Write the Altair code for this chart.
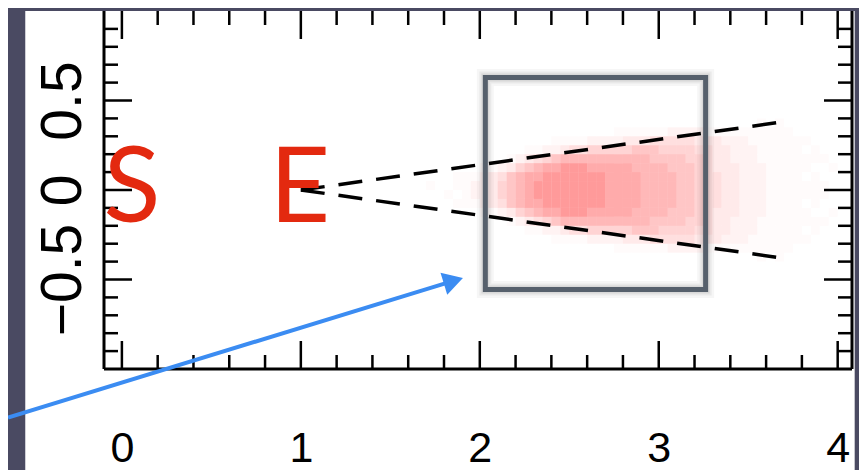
import altair as alt
import pandas as pd

# ---------------- axes / scales ----------------
X_DOMAIN = [-0.1, 4.08]
Y_DOMAIN = [-1.0, 1.0]
PLOT_W, PLOT_H = 748, 358
PX_X = PLOT_W / (X_DOMAIN[1] - X_DOMAIN[0])
PX_Y = PLOT_H / (Y_DOMAIN[1] - Y_DOMAIN[0])

x_tick_labels = [0, 1, 2, 3, 4]
y_tick_labels = [-0.5, 0.0, 0.5]
y_tick_text = ["\u22120.5", "0", "0.5"]
x_major_ticks = [0, 1, 2, 3, 4]
x_minor_ticks = [0.2, 0.4, 0.6, 0.8, 1.2, 1.4, 1.6, 1.8, 2.2, 2.4, 2.6, 2.8,
                 3.2, 3.4, 3.6, 3.8]
y_major_ticks = [-0.5, 0.0, 0.5]
y_minor_ticks = [-0.9, -0.8, -0.7, -0.6, -0.4, -0.3, -0.2, -0.1,
                 0.1, 0.2, 0.3, 0.4, 0.6, 0.7, 0.8, 0.9]

# ---------------- figure content ----------------
# dashed cone lines
cone_x0 = [1.0, 1.0]
cone_y0 = [0.0, 0.0]
cone_x1 = [3.69, 3.69]
cone_y1 = [0.38, -0.38]

# point cloud density, columns from x=1.70 in 0.05 steps,
# each string runs top (y=0.40) to bottom (y=-0.40) in 0.05 steps, digit = density 0..9
cloud_cols = [
    "0000000100000000", "0000000000000000", "0000000010000000", "0000001101000000",
    "0000001111000000", "0000001221000000", "0000012222100000", "0000013333100000",
    "0000024554200000", "0000136666310000", "0000257777520000", "0001368888631000",
    "0001478998741000", "0002589999852000", "0012689999862100", "0013799999973100",
    "0014799999974100", "0014799999974100", "0025789999875200", "0025789999875200",
    "0025788888875200", "0125788888875210", "0135788888875310", "0136778888776310",
    "0136777777776310", "0146677777766410", "0145677777765410", "0245667777665420",
    "0245666666665420", "0245566666655420", "0234555555554320", "0134444444444310",
    "0133334444333310", "0123333333333210", "0122233333322210", "0122222222222210",
    "0112222222222110", "1111122222211111", "0111111111111110", "1111111111111111",
    "0111111111111110", "0011111111111100", "0010110110110100", "0001101111011000",
    "0000100110010000", "0000010000100000",
]
cloud_x_start = 1.70
cloud_y_top = 0.40
cloud_step = 0.05
density_opacity = [0, 0.02, 0.05, 0.09, 0.14, 0.19, 0.25, 0.31, 0.37, 0.44]

# ---------------- slide overlays ----------------
letters = ["S", "E"]
letter_x = [0.056, 0.994]
letter_y = [-0.179, -0.179]
box_x = [2.031, 3.262]
box_y = [0.628, -0.556]
arrow_x = [-0.6365, 1.8525]
arrow_y = [-1.271, -0.508]
panel_x = [-0.54, 4.095]
panel_y = [1.0, -1.7]

# ---------------- tables ----------------
rows = []
for i, col in enumerate(cloud_cols):
    x0 = cloud_x_start + cloud_step * i
    for j, ch in enumerate(col):
        d = int(ch)
        if d == 0:
            continue
        y0 = cloud_y_top - cloud_step * j
        rows.append({"x": x0, "x2": x0 + cloud_step, "y": y0, "y2": y0 - cloud_step,
                     "op": density_opacity[d]})
cloud_df = pd.DataFrame(rows)

MAJ, MIN = 28, 14
tick_rows = []
for v in x_major_ticks + x_minor_ticks:
    L = MAJ if v in x_major_ticks else MIN
    tick_rows.append({"x": v, "x2": v, "y": Y_DOMAIN[0], "y2": Y_DOMAIN[0] + L / PX_Y})
    tick_rows.append({"x": v, "x2": v, "y": Y_DOMAIN[1], "y2": Y_DOMAIN[1] - L / PX_Y})
for v in y_major_ticks + y_minor_ticks:
    L = MAJ if v in y_major_ticks else MIN
    tick_rows.append({"x": X_DOMAIN[0], "x2": X_DOMAIN[0] + L / PX_X, "y": v, "y2": v})
    tick_rows.append({"x": X_DOMAIN[1], "x2": X_DOMAIN[1] - L / PX_X, "y": v, "y2": v})
ticks_df = pd.DataFrame(tick_rows)

frame_df = pd.DataFrame({
    "x": [X_DOMAIN[0], X_DOMAIN[0], X_DOMAIN[1]],
    "x2": [X_DOMAIN[0], X_DOMAIN[1], X_DOMAIN[1]],
    "y": [Y_DOMAIN[1], Y_DOMAIN[0], Y_DOMAIN[1]],
    "y2": [Y_DOMAIN[0], Y_DOMAIN[0], Y_DOMAIN[0]],
})
cone_df = pd.DataFrame({"x": cone_x0, "y": cone_y0, "x2": cone_x1, "y2": cone_y1})
letter_df = pd.DataFrame({"t": letters, "x": letter_x, "y": letter_y})
box_df = pd.DataFrame({"x": [box_x[0]], "x2": [box_x[1]], "y": [box_y[0]], "y2": [box_y[1]]})
arrow_df = pd.DataFrame({"x": [arrow_x[0]], "y": [arrow_y[0]], "x2": [arrow_x[1]], "y2": [arrow_y[1]]})
head_df = pd.DataFrame({"x": [arrow_x[1]], "y": [arrow_y[1]]})
panel_df = pd.DataFrame({"x": [panel_x[0]], "x2": [panel_x[1]], "y": [panel_y[0]], "y2": [panel_y[1]]})

# ---------------- encodings ----------------
xs = alt.Scale(domain=X_DOMAIN, nice=False, zero=False)
ys = alt.Scale(domain=Y_DOMAIN, nice=False, zero=False)
label_expr = ("datum.value < -0.25 ? '%s' : (datum.value > 0.25 ? '%s' : '%s')"
              % (y_tick_text[0], y_tick_text[2], y_tick_text[1]))
AX = alt.Axis(values=x_tick_labels, title=None, grid=False, domain=False, ticks=False,
              tickSize=0, labelFontSize=43, labelFont="Liberation Sans", labelColor="black",
              labelPadding=92, labelBaseline="alphabetic", labelAlign="center",
              labelFlush=False, labelOverlap=False, zindex=1)
AY = alt.Axis(values=y_tick_labels, title=None, grid=False, domain=False, ticks=False,
              tickSize=0, labelFontSize=57, labelFont="Liberation Sans", labelColor="black",
              labelPadding=24, labelAngle=270, labelBaseline="alphabetic",
              labelAlign="center", labelFlush=False, labelOverlap=False,
              labelExpr=label_expr, zindex=1)


def X(f):
    return alt.X(f, type="quantitative", scale=xs, axis=AX)


def Y(f):
    return alt.Y(f, type="quantitative", scale=ys, axis=AY)


panel = alt.Chart(panel_df).mark_rect(color="white").encode(
    x=X("x"), x2="x2", y=Y("y"), y2="y2")

cloud = alt.Chart(cloud_df).mark_rect(color="#ff1a1a").encode(
    x=X("x"), x2="x2", y=Y("y"), y2="y2",
    opacity=alt.Opacity("op:Q", scale=None, legend=None))

ticks = alt.Chart(ticks_df).mark_rule(color="black", strokeWidth=2.5).encode(
    x=X("x"), x2="x2", y=Y("y"), y2="y2")

frame = alt.Chart(frame_df).mark_rule(color="black", strokeWidth=3).encode(
    x=X("x"), x2="x2", y=Y("y"), y2="y2")

cone = alt.Chart(cone_df).mark_rule(color="black", strokeWidth=3.5, strokeDash=[24, 14]).encode(
    x=X("x"), x2="x2", y=Y("y"), y2="y2")

letter_marks = alt.Chart(letter_df).mark_text(
    font="Lato", fontSize=105, color="#e3290f", align="center", baseline="alphabetic"
).encode(x=X("x"), y=Y("y"), text="t:N")

shadows = []
for w, o in [(17, 0.035), (12, 0.05), (8, 0.07)]:
    shadows.append(alt.Chart(box_df).mark_rect(
        fill="transparent", stroke="black", strokeWidth=w, strokeOpacity=o
    ).encode(x=X("x"), x2="x2", y=Y("y"), y2="y2"))

box = alt.Chart(box_df).mark_rect(
    fill="transparent", stroke="#56606c", strokeWidth=5
).encode(x=X("x"), x2="x2", y=Y("y"), y2="y2")

arrow = alt.Chart(arrow_df).mark_rule(color="#3b8cf2", strokeWidth=4).encode(
    x=X("x"), x2="x2", y=Y("y"), y2="y2")

head = alt.Chart(head_df).mark_point(
    shape="triangle-up", angle=73, filled=True, size=529, color="#3b8cf2", opacity=1
).encode(x=X("x"), y=Y("y"))

chart = alt.layer(
    panel, cloud, ticks, frame, cone, letter_marks, *shadows, box, arrow, head
).properties(
    width=PLOT_W, height=PLOT_H, background="#4a4a62",
    padding={"left": 96, "top": 3, "right": 7, "bottom": 101},
    autosize=alt.AutoSizeParams(type="none"),
).configure_view(strokeWidth=0)

chart.save("out.html", embed_options={"renderer": "svg", "actions": False})
